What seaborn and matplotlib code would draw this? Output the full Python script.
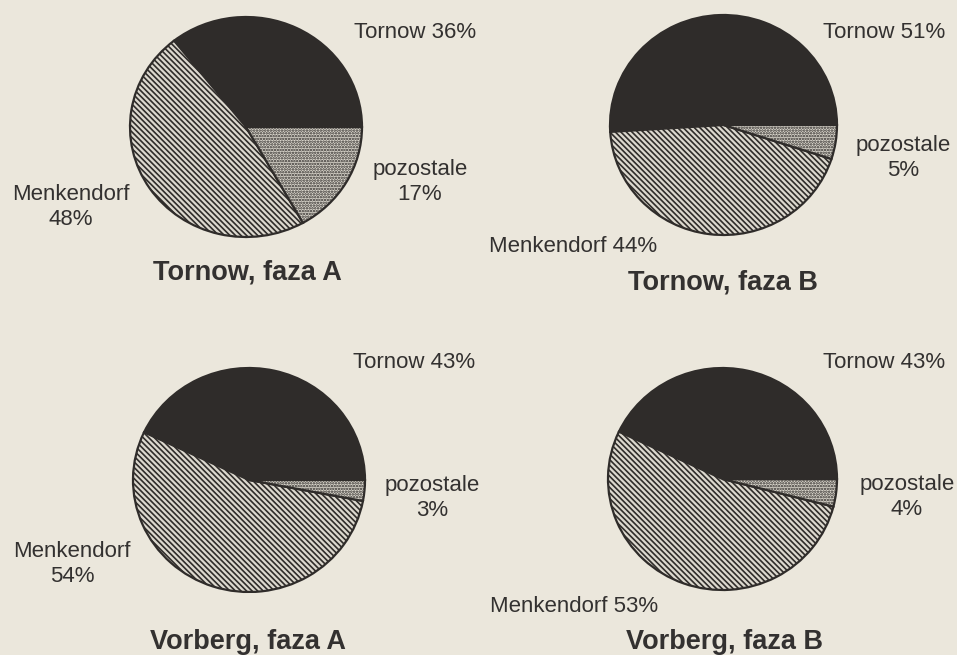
import matplotlib
matplotlib.use("Agg")
import matplotlib.pyplot as plt
import seaborn as sns

# shares of pottery groups per site and phase (in %)
titles = ["Tornow, faza A", "Tornow, faza B", "Vorberg, faza A", "Vorberg, faza B"]
categories = ["Tornow", "Menkendorf", "pozostale"]
tornow_share = [36, 51, 43, 43]
menkendorf_share = [48, 44, 54, 53]
pozostale_share = [17, 5, 3, 4]

sns.set_theme(style="white")
plt.rcParams["font.family"] = ["Liberation Sans", "DejaVu Sans"]
plt.rcParams["hatch.linewidth"] = 1.2

W, H = 957, 655
bg = "#ebe7dc"
ink = "#2f2c2a"
text_col = "#333130"

fig = plt.figure(figsize=(W / 100, H / 100), dpi=100, facecolor=bg)


def fx(x):
    return x / W


def fy(y):
    return 1 - y / H


# pixel boxes of the pies (left, top, right, bottom)
pie_boxes = [(130, 17, 362, 237), (610, 15, 837, 235),
             (133, 368, 365, 592), (608, 368, 837, 590)]
# label anchors: tornow, menkendorf, pozostale, title
label_pos = [
    [(415, 32), (71, 207), (420, 182), (247, 273)],
    [(884, 32), (573, 247), (903, 158), (723, 283)],
    [(414, 362), (72, 564), (432, 498), (248, 642)],
    [(884, 362), (574, 607), (907, 497), (725, 642)],
]
menk_two_lines = [True, False, True, False]

faces = [ink, "#dcd8ce", "#dad6cc"]
hatches = [None, "\\" * 6, "." * 6]

for i in range(4):
    x0, y0, x1, y1 = pie_boxes[i]
    ax = fig.add_axes([fx(x0), fy(y1), (x1 - x0) / W, (y1 - y0) / H])
    vals = [tornow_share[i], menkendorf_share[i], pozostale_share[i]]
    wedges, _ = ax.pie(vals, startangle=0, counterclock=True, colors=faces,
                       wedgeprops=dict(edgecolor=ink, linewidth=1.6))
    for w, h in zip(wedges, hatches):
        if h:
            w.set_hatch(h)
        w.set_clip_on(False)
    ax.set_aspect("auto")
    ax.set_xlim(-1.0, 1.0)
    ax.set_ylim(-1.0, 1.0)
    ax.set_facecolor("none")
    ax.axis("off")

    (tx, ty), (mx, my), (px, py), (hx, hy) = label_pos[i]
    fig.text(fx(tx), fy(ty), f"{categories[0]} {tornow_share[i]}%",
             ha="center", va="center", fontsize=16, color=text_col)
    sep = "\n" if menk_two_lines[i] else " "
    fig.text(fx(mx), fy(my), f"{categories[1]}{sep}{menkendorf_share[i]}%",
             ha="center", va="center", fontsize=16, color=text_col,
             linespacing=1.3, multialignment="center")
    fig.text(fx(px), fy(py), f"{categories[2]}\n{pozostale_share[i]}%",
             ha="center", va="center", fontsize=16, color=text_col,
             linespacing=1.3, multialignment="center")
    fig.text(fx(hx), fy(hy), titles[i], ha="center", va="center",
             fontsize=19.5, fontweight="bold", color=text_col)

fig.savefig("out.png", dpi=100, facecolor=bg)
